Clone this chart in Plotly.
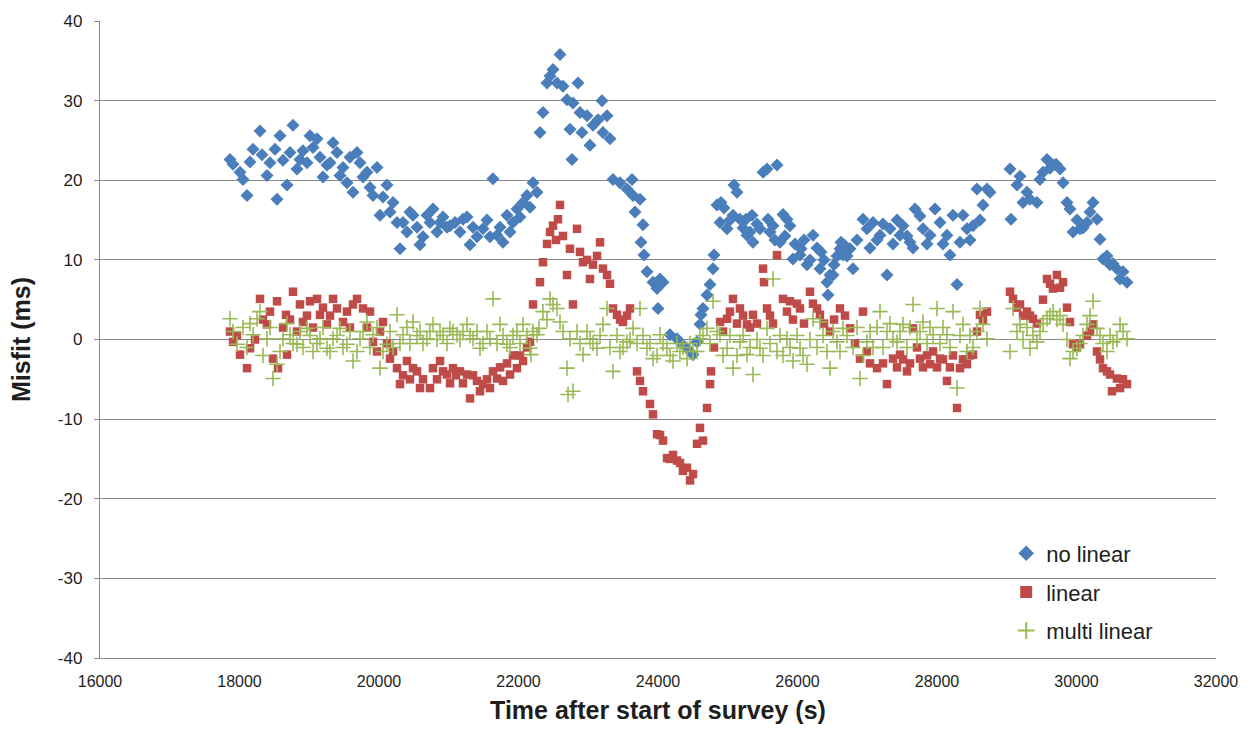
import plotly.graph_objects as go

# Misfit of the three correction schemes versus survey time.
# Times in seconds after the start of the survey, misfit in milliseconds.

NO_LINEAR_T = [
    17864, 17907, 18007, 18050, 18108, 18151, 18194, 18294, 18394, 18538,
    18581, 18681, 18767, 18867, 19011, 19111, 19254, 19341, 19441, 19627,
    19685, 19728, 19828, 19914, 20014, 20115, 20201, 20301, 20344, 20487,
    20588, 20688, 20774, 20875, 21018, 21204, 21305, 21491, 21634, 21692,
    21835, 21978, 22122, 22208,
    18323, 18437, 18509, 18624, 18724, 18824, 18910, 18968, 19054, 19154,
    19197, 19298, 19398, 19484, 19541, 19584, 19771, 19871, 19971, 20057,
    20158, 20258, 20401, 20444, 20545, 20631, 20731, 20832, 20918, 20975,
    21090, 21161, 21262, 21348, 21405, 21548, 21591, 21735, 21778, 21878,
    21921, 22022, 22065, 22165, 22265,
    22308, 22351, 22409, 22452, 22495, 22552, 22595, 22638, 22695, 22738,
    22767, 22781, 22853, 22882, 22910, 22982, 23025, 23068, 23140, 23197,
    23211, 23269, 23312, 23355, 23455, 23556, 23627, 23642, 23670, 23742,
    23785, 23756, 23799, 23842, 23928, 23986, 24029, 24072, 24000, 24172,
    24272, 24315, 24416, 24502, 24559, 24602, 24616, 24645, 24703, 24746,
    24789, 24803, 24846, 24889, 24903, 24990, 25075, 25090, 25133, 25175,
    25276, 25262, 25362, 25348, 25462, 25506, 25563, 25577, 25649, 25706,
    25749, 25792, 25849, 25892, 25935, 26036, 26050, 26136, 26222, 26322,
    26337, 26423, 26437, 26466, 26509, 26524, 26609, 26624, 26652, 26667,
    26753, 26796, 26939, 26996, 27082, 27183, 27283, 27326, 27470, 27513,
    27613, 27685, 27799, 27900, 27971, 28043, 28143, 28186, 28229, 28287,
    28330, 28373, 28430, 28516, 28573, 28659, 28717, 28760, 29047, 29061,
    29147, 29233, 29333, 29433, 29477, 29577, 29663, 29764, 29807, 29864,
    29907, 29950, 30050, 30150, 30237, 30294, 30337, 30380, 30480, 30580,
    30624, 30724,
    27039, 27140, 27226, 27369, 27427, 27570, 27656, 27756, 27857, 28086,
    28473, 28616, 29190, 29290, 29520, 29620, 29706, 30007, 30093, 30194,
    30437, 30523, 30667, 24946, 25032, 25219, 25319, 25419, 25606, 25677,
    25820, 25964, 26093, 26179, 26280, 26380, 26566, 26710, 26853,
]
NO_LINEAR_Y = [
    22.6, 22.0, 21.0, 20.1, 18.1, 22.3, 23.9, 26.2, 20.6, 17.6,
    25.6, 19.4, 26.9, 22.6, 25.6, 25.2, 21.9, 24.7, 20.6, 18.5,
    23.5, 22.2, 21.0, 18.1, 15.6, 19.4, 17.2, 11.4, 14.7, 15.6,
    11.9, 15.6, 16.4, 14.7, 14.3, 15.1, 11.9, 13.9, 20.2, 13.1,
    15.6, 16.4, 18.1, 19.7,
    23.2, 22.2, 23.9, 22.5, 23.5, 21.4, 23.7, 22.2, 24.1, 22.9,
    20.4, 22.2, 23.5, 21.6, 19.7, 22.9, 20.4, 19.1, 21.6, 17.9,
    16.0, 14.7, 13.5, 16.0, 14.1, 12.9, 14.7, 13.5, 15.4, 14.1,
    14.7, 13.5, 15.4, 14.1, 12.9, 15.0, 12.9, 14.1, 12.2, 13.5,
    14.7, 15.4, 17.2, 16.6, 18.5,
    26.0, 28.5, 32.2, 33.1, 33.9, 32.2, 35.8, 31.8, 30.1, 26.4,
    22.6, 29.7, 32.2, 28.5, 26.0, 28.1, 24.4, 26.9, 27.6, 30.0,
    26.0, 28.1, 25.2, 20.1, 19.7, 18.9, 20.1, 18.1, 16.0, 17.6,
    14.4, 12.2, 10.6, 8.5, 7.2, 6.4, 7.6, 7.2, 3.9, 0.6,
    0.1, -0.3, -1.1, -1.9, -0.3, 1.9, 3.1, 3.9, 5.6, 6.9,
    8.9, 10.6, 16.9, 14.7, 17.2, 13.9, 15.6, 19.4, 18.5, 15.1,
    13.1, 15.1, 12.2, 15.6, 13.9, 21.0, 21.4, 15.1, 14.3, 21.9,
    12.2, 15.7, 15.1, 14.3, 10.1, 10.6, 11.4, 9.4, 13.1, 8.9,
    11.0, 7.2, 5.6, 8.1, 8.1, 9.4, 11.4, 12.2, 10.6, 11.9,
    11.4, 8.9, 15.1, 13.9, 14.7, 13.1, 8.1, 13.9, 13.1, 14.3,
    12.2, 16.4, 13.9, 13.1, 16.4, 14.7, 13.1, 10.6, 15.6, 6.9,
    12.2, 15.6, 13.9, 14.3, 18.9, 16.9, 18.9, 18.5, 21.4, 15.1,
    19.4, 17.2, 17.6, 17.2, 20.1, 22.6, 21.9, 21.4, 19.7, 17.2,
    16.4, 13.5, 13.9, 14.7, 17.2, 15.1, 12.6, 10.1, 9.4, 8.9,
    7.6, 7.2,
    11.5, 12.5, 14.5, 12.0, 15.0, 13.0, 11.5, 15.5, 12.0, 12.0,
    12.5, 15.0, 20.5, 18.5, 21.0, 21.5, 22.0, 15.0, 14.0, 16.0,
    10.5, 9.5, 8.5, 16.5, 15.0, 14.0, 13.5, 14.5, 13.5, 12.5,
    13.0, 12.0, 12.5, 10.0, 11.5, 10.0, 10.5, 10.5, 12.5,
]

LINEAR_T = [
    17864, 17907, 18007, 18108, 18151, 18294, 18394, 18480, 18538, 18552,
    18681, 18667, 18767, 18867, 18910, 19011, 19111, 19154, 19254, 19341,
    19398, 19484, 19627, 19685, 19771, 19871, 19914, 19971, 20057, 20158,
    20258, 20301, 20401, 20487, 20588, 20731, 20774, 20875, 20975, 21061,
    21161, 21262, 21305, 21405, 21491, 21591, 21692, 21778, 21878, 21978,
    22065, 22165, 22208, 22308,
    17964, 18222, 18337, 18437, 18624, 18724, 18824, 18967, 19054, 19197,
    19298, 19541, 19584, 19828, 20014, 20115, 20201, 20344, 20444, 20545,
    20631, 20832, 20918, 21018, 21104, 21204, 21348, 21448, 21548, 21634,
    21735, 21835, 21921, 22022, 22122,
    22351, 22452, 22495, 22595, 22566, 22695, 22738, 22781, 22839, 22882,
    22925, 23025, 23068, 23169, 23211, 23269, 23355, 23412, 23498, 23598,
    23699, 23742, 23785, 23885, 23928, 23986, 24072, 24129, 24272, 24416,
    24459, 24502, 24559, 24602, 24645, 24703, 24746, 24760, 24889, 24990,
    25075, 25175, 25276, 25362, 25506, 25520, 25706, 25563, 25792, 25892,
    26036, 26179, 26280, 26322, 26466, 26609,
    22409, 22538, 22638, 22982, 23126, 23312, 23455, 23556, 24029, 24172,
    24215, 24315, 24358, 24803, 24932, 25032, 25133, 25219, 25319, 25419,
    25606, 25649, 25849, 25935, 25993, 26093, 26222, 26380, 26524,
    26753, 26896, 26939, 27140, 27283, 27369, 27470, 27570, 27656, 27756,
    27900, 28043, 28143, 28287, 28330, 28430, 28516, 28616, 28717, 29047,
    29090, 29190, 29290, 29376, 29577, 29720, 29807, 29663, 29907, 29950,
    30237, 30294, 30380, 30480, 30580, 30509, 30624, 30724,
    26681, 26825, 26996, 27039, 27226, 27427, 27513, 27613, 27713, 27799,
    27857, 27943, 28000, 28086, 28186, 28229, 28373, 28473, 28573, 28659,
    29147, 29233, 29333, 29433, 29520, 29620, 29764, 29864, 30007, 30050,
    30150, 30194, 30337, 30437, 30667,
]
LINEAR_Y = [
    1.0, -0.3, -1.9, -3.6, -1.1, 5.1, 1.9, -2.4, 4.8, -3.6,
    -1.9, 3.1, 6.0, 4.4, 2.2, 4.8, 5.1, 3.1, 1.9, 5.1,
    3.9, 2.2, 4.4, 5.1, 3.9, 3.5, -0.3, -1.5, 2.2, -2.4,
    -3.6, -5.6, -2.7, -3.6, -6.1, -6.1, -3.6, -2.7, -4.4, -3.6,
    -4.0, -4.4, -7.4, -5.2, -5.6, -6.1, -4.9, -5.2, -4.4, -3.6,
    -2.7, -0.3, 4.4, 7.2,
    0.5, 0.0, 2.5, 3.5, 1.5, 2.5, 1.0, 3.0, 1.5, 4.0,
    3.0, 3.5, 1.5, 1.5, 1.0, -0.5, -1.5, -4.5, -5.0, -4.0,
    -5.0, -5.0, -4.0, -5.5, -4.5, -5.5, -4.5, -6.5, -5.0, -4.0,
    -3.5, -3.0, -2.0, -2.0, -1.0,
    9.7, 13.5, 14.3, 16.9, 15.1, 8.1, 11.4, 4.4, 13.9, 11.0,
    9.7, 7.6, 9.4, 12.2, 8.9, 8.1, 3.9, 3.1, 2.2, 3.9,
    -4.0, -5.2, -6.5, -8.1, -9.4, -11.9, -12.7, -14.9, -15.2, -16.1,
    -17.7, -16.9, -13.1, -11.1, -12.7, -8.6, -5.6, -4.0, 2.2, 2.6,
    5.1, 3.9, 1.9, 3.1, 8.9, 7.2, 10.6, 3.9, 5.1, 4.8,
    3.9, 6.0, 3.9, 3.1, 1.0, 3.9,
    12.0, 12.5, 13.0, 10.0, 10.5, 7.0, 2.5, 3.0, -12.0, -15.0,
    -14.5, -15.5, -16.5, -1.0, 1.0, 3.5, 2.0, 3.0, 1.5, 2.0,
    3.0, 2.0, 3.5, 2.5, 4.5, 2.0, 4.5, 2.0, 2.5,
    1.4, -2.4, 3.5, -3.6, -5.6, -2.4, -1.9, -4.0, 1.4, -2.4,
    -3.1, -2.4, -5.2, -8.6, -3.6, -3.1, -1.9, 3.1, 3.5, 6.0,
    5.1, 4.4, 3.5, 2.6, 7.6, 8.1, 7.2, 6.4, 2.2, -0.6,
    1.9, -1.5, -3.6, -4.4, -4.9, -6.5, -6.1, -5.6,
    3.0, -0.5, -1.5, -3.0, -3.0, -3.5, -2.5, -3.0, -1.0, -3.5,
    -2.0, -1.5, -3.5, -2.5, -3.5, -2.0, -2.5, -2.0, 1.0, 2.5,
    4.0, 3.0, 3.0, 2.0, 5.0, 7.0, 6.5, 4.0, -1.0, -0.5,
    0.5, 1.0, -2.5, -4.0, -5.0,
]

MULTI_LINEAR_T = [
    17864, 17907, 17964, 18194, 18251, 18294, 18394, 18480, 18538, 18624,
    18724, 18824, 18967, 19054, 19154, 19254, 19341, 19441, 19541, 19627,
    19728, 19828, 19914, 20014, 20115, 20258, 20344, 20487, 20588, 20688,
    20774, 20875, 21018, 21118, 21262, 21348, 21448, 21591, 21634, 21735,
    21835, 21978, 22065, 22165, 22265,
    18050, 18108, 18151, 18337, 18437, 18581, 18681, 18767, 18867, 18910,
    19011, 19111, 19197, 19298, 19398, 19484, 19584, 19685, 19771, 19871,
    19971, 20057, 20158, 20201, 20301, 20401, 20444, 20545, 20631, 20731,
    20832, 20918, 20975, 21061, 21161, 21204, 21305, 21405, 21491, 21548,
    21692, 21778, 21878, 21921, 22022, 22122, 22208,
    22179, 22294, 22351, 22452, 22495, 22552, 22595, 22695, 22710, 22781,
    22738, 22839, 22925, 23025, 23126, 23211, 23269, 23355, 23455, 23556,
    23642, 23742, 23842, 23928, 24029, 24129, 24215, 24315, 24416, 24502,
    24602, 24703, 24789, 24889, 24990, 25075, 25175, 25276, 25362, 25462,
    25563, 25649, 25706, 25849, 25935, 26036, 26136, 26222, 26322, 26466,
    26566, 26652,
    22409, 22638, 22882, 22982, 23068, 23169, 23312, 23412, 23498, 23598,
    23699, 23785, 23885, 23986, 24072, 24172, 24272, 24358, 24459, 24559,
    24645, 24746, 24846, 24932, 25032, 25133, 25219, 25319, 25419, 25506,
    25606, 25749, 25792, 25892, 25993, 26079, 26179, 26280, 26366, 26423,
    26509, 26609,
    26896, 26996, 27183, 27283, 27427, 27513, 27656, 27799, 27943, 28000,
    28143, 28229, 28287, 28373, 28430, 28616, 28659, 28717, 29047, 29090,
    29190, 29333, 29433, 29577, 29663, 29807, 29907, 30007, 30150, 30237,
    30294, 30437, 30523, 30624, 30724,
    26710, 26796, 26853, 26939, 27039, 27082, 27140, 27226, 27326, 27369,
    27470, 27570, 27613, 27713, 27756, 27857, 27900, 28043, 28086, 28186,
    28330, 28473, 28516, 28573, 29147, 29233, 29290, 29376, 29477, 29520,
    29620, 29720, 29764, 29864, 29950, 30050, 30093, 30194, 30337, 30380,
    30480, 30580, 30667,
]
MULTI_LINEAR_Y = [
    2.6, 1.0, -0.6, 0.6, 2.6, 3.5, 0.1, -4.9, -3.1, 0.1,
    0.6, -0.6, 1.4, -1.5, 0.1, -1.1, 0.1, 1.4, -0.6, -2.7,
    0.1, 2.2, 0.6, -3.6, -0.6, 3.1, 0.6, 2.2, 1.0, 0.1,
    1.9, 1.0, 1.4, 0.6, 1.9, 0.1, -1.1, 0.1, 5.1, 1.9,
    -0.6, 1.0, 1.9, -1.1, 0.6,
    1.5, -1.0, 2.0, -2.0, 1.5, -1.5, 2.0, -0.5, 1.0, -1.0,
    0.5, -0.5, 1.5, -1.5, 0.5, -1.0, 1.0, -1.5, 1.0, -1.0,
    1.5, -1.5, 1.0, -1.0, -0.5, 1.5, -0.5, 0.5, -0.5, 1.0,
    0.0, 0.5, -0.5, 1.0, 0.0, 1.0, 0.5, 1.0, -0.5, 1.0,
    -0.5, 0.5, -1.0, 0.5, -0.5, 0.5, 1.0,
    -1.9, 1.4, 3.5, 5.1, 4.4, 3.9, 2.2, -3.6, -6.9, -6.5,
    0.1, 1.0, -1.9, 0.1, -1.1, 1.9, 3.9, -4.0, -1.5, -0.3,
    1.4, 3.9, -1.1, -2.4, 0.6, -1.1, -2.7, -1.5, -2.4, -1.5,
    0.1, 1.4, 4.8, 0.6, -1.1, -3.6, -0.3, -1.9, -4.4, -1.1,
    1.4, 7.6, -1.5, 0.1, -2.7, -1.1, -3.1, 2.6, 2.2, -3.6,
    -0.3, 1.4,
    2.5, 1.0, -0.5, 1.0, -0.5, 0.5, -1.0, 0.5, -1.0, 0.0,
    -0.5, 0.5, -0.5, -2.0, -0.5, -2.0, -0.5, -1.0, -0.5, -1.5,
    0.5, -0.5, 1.0, -2.0, 0.5, -2.0, 0.5, -1.0, 0.0, -2.0,
    -0.5, 0.5, -2.0, -1.0, 0.5, -2.0, 0.0, -1.0, 0.5, -1.5,
    1.0, -1.5,
    -4.9, -0.3, 3.5, 1.0, -0.3, 1.9, 4.4, 2.2, 0.6, 3.9,
    0.6, 3.5, -6.1, 1.9, -1.5, 3.9, 1.9, 0.1, -1.5, 3.9,
    1.9, -1.1, -0.3, 2.6, 3.5, 1.9, -2.4, -1.1, 1.9, 4.8,
    1.4, -1.5, -0.3, 1.9, 0.1,
    0.5, -1.0, 1.5, -2.0, 1.0, -1.0, 1.5, -1.0, 2.0, 0.0,
    1.0, -1.0, 1.5, 0.0, 1.0, -0.5, 1.5, -0.5, 1.5, -1.0,
    0.5, 0.5, -1.0, 1.0, 1.0, 0.0, 1.5, 0.5, 1.0, 2.0,
    3.0, 2.5, 3.0, 0.0, -1.5, -0.5, 0.5, 3.0, 0.5, -0.5,
    0.5, 0.0, 1.0,
]

Y_TICKS = [-40, -30, -20, -10, 0, 10, 20, 30, 40]
X_TICKS = [16000, 18000, 20000, 22000, 24000, 26000, 28000, 30000, 32000]

BLUE = "#4a7ebb"
RED = "#be4b48"
GREEN = "#98b954"
GRID = "#8a8a8a"
TEXT = "#1e1e1e"

fig = go.Figure()

fig.add_trace(go.Scatter(
    x=NO_LINEAR_T, y=NO_LINEAR_Y, mode="markers", name="no linear",
    legendgroup="a",
    marker=dict(symbol="diamond", size=10, color=BLUE, line=dict(width=0)),
))
fig.add_trace(go.Scatter(
    x=LINEAR_T, y=LINEAR_Y, mode="markers", name="linear",
    legendgroup="b",
    marker=dict(symbol="square", size=8.5, color=RED, line=dict(width=0)),
))
fig.add_trace(go.Scatter(
    x=MULTI_LINEAR_T, y=MULTI_LINEAR_Y, mode="markers", name="multi linear",
    legendgroup="c",
    marker=dict(symbol="cross-thin", size=11, color=GREEN,
                line=dict(width=1.6, color=GREEN)),
))

fig.update_layout(
    width=1258, height=732,
    margin=dict(l=100, r=42, t=18, b=74),
    plot_bgcolor="white", paper_bgcolor="white",
    font=dict(family="Liberation Sans, Arial, sans-serif", color=TEXT),
    legend=dict(
        x=0.812, y=0.197, xanchor="left", yanchor="top",
        font=dict(size=22, color=TEXT),
        bgcolor="rgba(255,255,255,0)",
        traceorder="grouped", tracegroupgap=7,
        itemsizing="constant",
    ),
)

fig.update_xaxes(
    range=[16000, 32000], tickvals=X_TICKS,
    ticktext=[str(v) for v in X_TICKS],
    showgrid=False, zeroline=False,
    showline=True, linecolor=GRID, linewidth=1.4,
    ticks="", ticklabelstandoff=9,
    tickfont=dict(family="Liberation Sans Narrow, Arial Narrow, Liberation Sans, sans-serif",
                  size=16, color=TEXT),
    title=dict(text="Time after start of survey (s)", standoff=12,
               font=dict(size=25, weight="bold", color=TEXT)),
)

fig.update_yaxes(
    range=[-40, 40], tickvals=Y_TICKS,
    ticktext=[str(v) for v in Y_TICKS],
    showgrid=True, gridcolor=GRID, gridwidth=1.4,
    zeroline=False,
    showline=True, linecolor=GRID, linewidth=1.4,
    ticks="outside", ticklen=5, tickcolor=GRID, tickwidth=1.4,
    ticklabelstandoff=8,
    tickfont=dict(size=17, color=TEXT),
    title=dict(text="Misfit (ms)", standoff=20,
               font=dict(size=25, weight="bold", color=TEXT)),
)

fig.write_html("out.html")
